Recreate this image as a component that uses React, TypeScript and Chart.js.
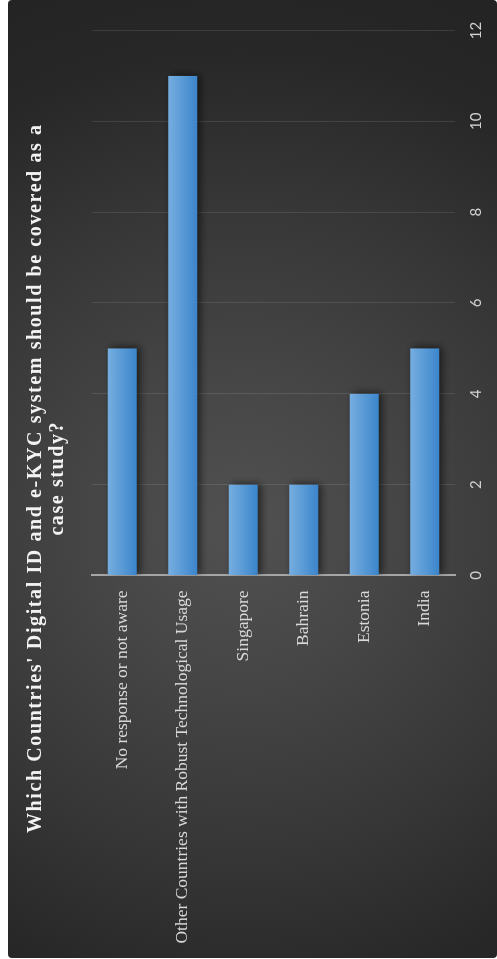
import { useEffect, useRef } from "react";
import { Chart, registerables } from "chart.js";

Chart.register(...registerables);

const titleLines = [
  "Which Countries' Digital ID and e-KYC system should be covered as a",
  "case study?",
];
const categories = [
  "No response or not aware",
  "Other Countries with Robust Technological Usage",
  "Singapore",
  "Bahrain",
  "Estonia",
  "India",
];
const responses = [5, 11, 2, 2, 4, 5];
const valueMin = 0;
const valueMax = 12;
const valueStep = 2;

const BOX_W = 489;
const BOX_H = 958;

export default function App() {
  const ref = useRef<HTMLCanvasElement>(null);

  useEffect(() => {
    const canvas = ref.current!;
    const titlePlugin = {
      id: "spacedTitle",
      afterDraw(chart: any) {
        const ctx = chart.ctx;
        ctx.save();
        ctx.fillStyle = "#f2f2f2";
        ctx.font = 'bold 20px "Liberation Serif", "Times New Roman", serif';
        (ctx as any).letterSpacing = "1.6px";
        ctx.textAlign = "center";
        ctx.textBaseline = "alphabetic";
        const cx = chart.width / 2 + 0.8;
        titleLines.forEach((t, i) => ctx.fillText(t, cx, 33 + i * 22));
        ctx.restore();
      },
    };
    const shadowPlugin = {
      id: "barShadow",
      beforeDatasetsDraw(chart: any) {
        const ctx = chart.ctx;
        ctx.save();
        ctx.shadowColor = "rgba(0,0,0,0.6)";
        ctx.shadowBlur = 8;
        ctx.shadowOffsetX = 1;
        ctx.shadowOffsetY = 3;
      },
      afterDatasetsDraw(chart: any) {
        chart.ctx.restore();
      },
    };

    const chart = new Chart(canvas, {
      type: "bar",
      data: {
        labels: categories,
        datasets: [
          {
            data: responses,
            backgroundColor: (c: any) => {
              const ch = c.chart;
              const ys = ch.scales && ch.scales.y;
              const area = ch.chartArea;
              if (!ys || !area || c.dataIndex === undefined) return "#5b9bd5";
              const center = ys.getPixelForValue(c.dataIndex);
              const half = ((area.bottom - area.top) / categories.length) * 0.24;
              const g = ch.ctx.createLinearGradient(0, center - half, 0, center + half);
              g.addColorStop(0, "#76aee0");
              g.addColorStop(1, "#3b85cb");
              return g;
            },
            borderWidth: 0,
            barPercentage: 0.48,
            categoryPercentage: 1,
          },
        ],
      },
      options: {
        indexAxis: "y",
        responsive: false,
        animation: false,
        layout: { padding: { top: 84, right: 30.5, left: 0, bottom: 0 } },
        plugins: {
          legend: { display: false },
          tooltip: { enabled: false },
          title: { display: false },
        },
        scales: {
          x: {
            min: valueMin,
            max: valueMax,
            ticks: {
              stepSize: valueStep,
              color: "#d0d0d0",
              font: { family: "Lato, 'Liberation Sans', sans-serif", size: 15 },
              padding: 12,
              maxRotation: 0,
            },
            grid: { color: "rgba(255,255,255,0.1)", drawTicks: false, lineWidth: 1 },
            border: { display: false },
            afterFit: (s: any) => {
              s.height = 42;
            },
          },
          y: {
            z: 1,
            ticks: {
              color: "#d9d9d9",
              font: { family: "'Liberation Serif', 'Times New Roman', serif", size: 17.5 },
              padding: 15,
              autoSkip: false,
            },
            grid: { display: false, drawTicks: false },
            border: { display: true, color: "#a6a6a6", width: 2 },
            afterFit: (s: any) => {
              s.width = 382.5;
            },
          },
        },
      },
      plugins: [shadowPlugin, titlePlugin],
    } as any);
    return () => chart.destroy();
  }, []);

  return (
    <div
      style={{
        position: "fixed",
        left: 8,
        top: 0,
        width: BOX_W,
        height: BOX_H,
        overflow: "hidden",
        borderRadius: 4,
        background:
          "radial-gradient(circle at 48% 55%, #515151 0px, #464646 150px, #363636 330px, #272727 480px, #232323 600px)",
      }}
    >
      <canvas
        ref={ref}
        width={BOX_H}
        height={BOX_W}
        style={{
          position: "absolute",
          left: 0,
          top: 0,
          width: BOX_H,
          height: BOX_W,
          transformOrigin: "0 0",
          transform: `translateY(${BOX_H}px) rotate(-90deg)`,
        }}
      />
    </div>
  );
}
